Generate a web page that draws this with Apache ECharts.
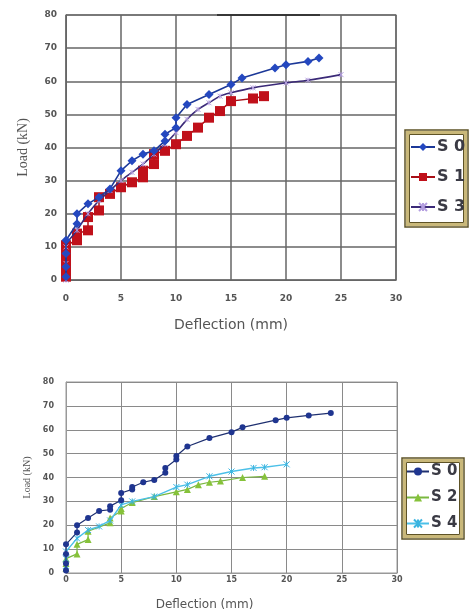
<!DOCTYPE html>
<html>
<head>
<meta charset="utf-8">
<script src="https://cdn.jsdelivr.net/npm/echarts@6/dist/echarts.min.js"></script>
<style>html,body{margin:0;padding:0;background:#fff;}#c{width:469px;height:612px;}</style>
</head>
<body>
<div id="c"></div>
<script>
// ---- data ----
var xTicks = [0, 5, 10, 15, 20, 25, 30];
var yTicks = [0, 10, 20, 30, 40, 50, 60, 70, 80];

// top chart
var s0TopX = [0, 0, 0, 0, 1, 1, 2, 3, 4, 5, 6, 7, 8, 9, 9, 10, 10, 11, 13, 15, 16, 19, 20, 22, 23];
var s0TopY = [1, 4, 8, 12, 17, 20, 23, 25, 27.5, 33, 36, 38, 39, 42, 44, 46, 49, 53, 56, 59, 61, 64, 65, 66, 67];
var s1TopX = [0, 0, 0, 0, 0, 0, 1, 1, 2, 2, 3, 3, 4, 5, 6, 7, 7, 8, 8, 9, 10, 11, 12, 13, 14, 15, 17, 18];
var s1TopY = [1, 3, 5, 7, 9.5, 10.5, 12, 14, 15, 19, 21, 25, 26, 28, 29.5, 31, 33, 35, 38, 39, 41, 43.5, 46, 49, 51, 54, 54.8, 55.5];
var s3TopX = [0, 0, 0, 1, 2, 3, 4, 5, 6, 7, 8, 9, 10, 11, 12, 13, 14, 15, 17, 20, 22, 25];
var s3TopY = [0, 5, 10, 15, 20, 24, 27, 30, 32.5, 35, 38, 41, 44.5, 48.5, 51.5, 53.5, 55.5, 56.5, 58, 59.5, 60.3, 62];

// bottom chart
var s0BotX = [0, 0, 0, 0, 1, 1, 2, 3, 4, 4, 5, 5, 6, 6, 7, 8, 9, 9, 10, 10, 11, 13, 15, 16, 19, 20, 22, 24];
var s0BotY = [1, 4, 8, 12, 17, 20, 23, 26, 26.5, 28, 30.5, 33.5, 35, 36, 38, 39, 42, 44, 47.5, 49, 53, 56.5, 59, 61, 64, 65, 66, 67];
var s2BotX = [0, 0, 0, 1, 1, 2, 2, 4, 4, 5, 5, 6, 8, 10, 11, 12, 13, 14, 16, 18];
var s2BotY = [2, 4, 6, 8, 12, 14, 17.5, 21, 23, 26, 27, 29.5, 32, 34, 35, 37, 38, 38.5, 40, 40.5];
var s4BotX = [0, 0, 0, 1, 2, 3, 4, 5, 6, 8, 10, 11, 13, 15, 17, 18, 20];
var s4BotY = [3, 6, 9, 14.5, 18, 19.5, 22, 28.5, 30, 32, 36, 37, 40.5, 42.5, 44, 44.3, 45.5];

var namesTop = ['S 0', 'S 1', 'S 3'];
var namesBot = ['S 0 ', 'S 2', 'S 4'];

function pairs(xs, ys) { return xs.map(function (x, i) { return [x, ys[i]]; }); }

var crossPath = 'path://M0,0L10,10M10,0L0,10M5,0L5,10';

var chart = echarts.init(document.getElementById('c'), null, { renderer: 'canvas' });

function frame(x, y, w, h) {
  return [
    { type: 'rect', shape: { x: x, y: y, width: w, height: h }, style: { fill: '#fff', stroke: '#5e5326', lineWidth: 1.5 }, z: 1 },
    { type: 'rect', shape: { x: x + 2.5, y: y + 2.5, width: w - 5, height: h - 5 }, style: { fill: 'none', stroke: '#c9b87a', lineWidth: 3 }, z: 1 },
    { type: 'rect', shape: { x: x + 4.5, y: y + 4.5, width: w - 9, height: h - 9 }, style: { fill: '#fff', stroke: '#5e5326', lineWidth: 1 }, z: 1 }
  ];
}

var option = {
  backgroundColor: '#fff',
  animation: false,
  graphic: frame(405, 130, 63, 97).concat(frame(402, 458, 62, 81)).concat([
    { type: 'line', shape: { x1: 217, y1: 15, x2: 320, y2: 15 }, style: { stroke: '#222', lineWidth: 1.5 }, z: 10 }
  ]),
  grid: [
    { left: 66, top: 15, width: 330, height: 265, show: true, borderColor: '#666', borderWidth: 1.2, backgroundColor: '#fff' },
    { left: 66, top: 382, width: 331, height: 191, show: true, borderColor: '#999', borderWidth: 1, backgroundColor: '#fff' }
  ],
  legend: [
    {
      data: namesTop, orient: 'vertical', left: 410, top: 139, itemGap: 14, itemWidth: 24, itemHeight: 10,
      padding: 0, textStyle: { fontSize: 16, fontWeight: 'bold', color: '#3a3a44', fontFamily: 'DejaVu Sans', padding: [0, 0, 0, -3] }, z: 5
    },
    {
      data: namesBot, orient: 'vertical', left: 406, top: 464, itemGap: 11, itemWidth: 22, itemHeight: 10,
      padding: 0, textStyle: { fontSize: 15, fontWeight: 'bold', color: '#3a3a44', fontFamily: 'DejaVu Sans', padding: [0, 0, 0, -3] }, z: 5
    }
  ],
  xAxis: [
    {
      gridIndex: 0, type: 'value', min: 0, max: 30, interval: 5,
      name: 'Deflection (mm)', nameLocation: 'middle', nameGap: 38,
      nameTextStyle: { fontSize: 14, color: '#555', fontFamily: 'DejaVu Sans' },
      axisLine: { show: true, lineStyle: { color: '#666' } }, axisTick: { show: false },
      axisLabel: { margin: 14, fontSize: 9, color: '#555', fontWeight: 'bold', fontFamily: 'DejaVu Sans', formatter: function (v) { return xTicks.indexOf(v) >= 0 ? String(v) : ''; } },
      splitLine: { show: true, lineStyle: { color: '#666', width: 1.5 } }
    },
    {
      gridIndex: 1, type: 'value', min: 0, max: 30, interval: 5,
      name: 'Deflection (mm)', nameLocation: 'middle', nameGap: 26,
      nameTextStyle: { fontSize: 12, color: '#555', fontFamily: 'DejaVu Sans', padding: [0, 54, 0, 0] },
      axisLine: { show: true, lineStyle: { color: '#999' } }, axisTick: { show: false },
      axisLabel: { margin: 3, fontSize: 8, color: '#555', fontWeight: 'bold', fontFamily: 'DejaVu Sans', formatter: function (v) { return xTicks.indexOf(v) >= 0 ? String(v) : ''; } },
      splitLine: { show: true, lineStyle: { color: '#8a8a8a', width: 1 } }
    }
  ],
  yAxis: [
    {
      gridIndex: 0, type: 'value', min: 0, max: 80, interval: 10,
      name: 'Load (kN)', nameLocation: 'middle', nameGap: 36,
      nameTextStyle: { fontSize: 14, color: '#555', fontFamily: 'Liberation Serif' },
      axisLine: { show: true, lineStyle: { color: '#666' } }, axisTick: { show: false },
      axisLabel: { margin: 9, fontSize: 9, color: '#555', fontWeight: 'bold', fontFamily: 'DejaVu Sans', formatter: function (v) { return yTicks.indexOf(v) >= 0 ? String(v) : ''; } },
      splitLine: { show: true, lineStyle: { color: '#666', width: 1.5 } }
    },
    {
      gridIndex: 1, type: 'value', min: 0, max: 80, interval: 10,
      name: 'Load (kN)', nameLocation: 'middle', nameGap: 34,
      nameTextStyle: { fontSize: 10, color: '#555', fontFamily: 'Liberation Serif' },
      axisLine: { show: true, lineStyle: { color: '#999' } }, axisTick: { show: false },
      axisLabel: { margin: 12, fontSize: 8, color: '#555', fontWeight: 'bold', fontFamily: 'DejaVu Sans', formatter: function (v) { return yTicks.indexOf(v) >= 0 ? String(v) : ''; } },
      splitLine: { show: true, lineStyle: { color: '#8a8a8a', width: 1 } }
    }
  ],
  series: [
    {
      name: 'S 1', type: 'line', xAxisIndex: 0, yAxisIndex: 0, data: pairs(s1TopX, s1TopY),
      symbol: 'rect', symbolSize: 10, itemStyle: { color: '#c0101a' }, lineStyle: { color: '#a80e16', width: 1.5 }, z: 3
    },
    {
      name: 'S 3', type: 'line', xAxisIndex: 0, yAxisIndex: 0, data: pairs(s3TopX, s3TopY), smooth: 0.3,
      symbol: crossPath, symbolSize: 5, itemStyle: { color: '#b49ee0', borderColor: '#b49ee0', borderWidth: 1 }, lineStyle: { color: '#3b2a78', width: 1.6 }, z: 4
    },
    {
      name: 'S 0', type: 'line', xAxisIndex: 0, yAxisIndex: 0, data: pairs(s0TopX, s0TopY),
      symbol: 'diamond', symbolSize: 9, itemStyle: { color: '#2448c0' }, lineStyle: { color: '#1c3898', width: 1.6 }, z: 5
    },
    {
      name: 'S 0 ', type: 'line', xAxisIndex: 1, yAxisIndex: 1, data: pairs(s0BotX, s0BotY),
      symbol: 'circle', symbolSize: 6, itemStyle: { color: '#1f3590' }, lineStyle: { color: '#1f3070', width: 1.2 }, z: 5
    },
    {
      name: 'S 2', type: 'line', xAxisIndex: 1, yAxisIndex: 1, data: pairs(s2BotX, s2BotY),
      symbol: 'triangle', symbolSize: 7, itemStyle: { color: '#86c23a' }, lineStyle: { color: '#7ab840', width: 1.2 }, z: 3
    },
    {
      name: 'S 4', type: 'line', xAxisIndex: 1, yAxisIndex: 1, data: pairs(s4BotX, s4BotY),
      symbol: crossPath, symbolSize: 6, itemStyle: { color: '#3ab4e0', borderColor: '#3ab4e0', borderWidth: 1 }, lineStyle: { color: '#4cc0e8', width: 1.4 }, z: 4
    }
  ]
};
chart.setOption(option);
</script>
</body>
</html>
